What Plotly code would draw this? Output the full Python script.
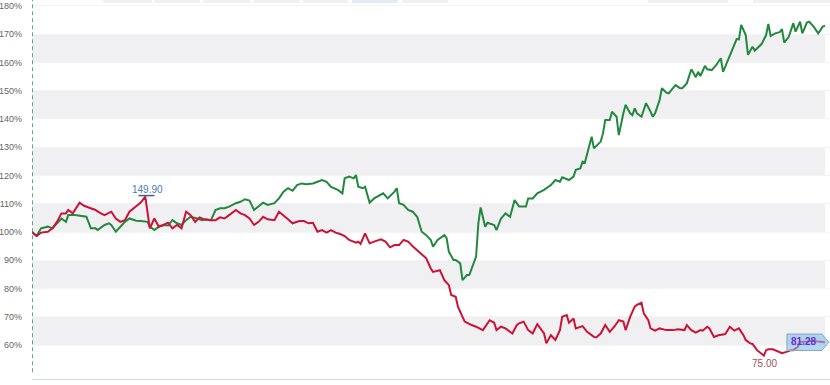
import plotly.graph_objects as go

# ---------------- data (percent of starting value) ----------------
green_days = [0,2,4,7,9,11,13,15,16,19,22,24,26,28,29,32,34,35,37,39,41,43,46,48,51,52,54,56,58,60,
              62,64,66,68,70,73,75,77,79,81,83,85,87,90,92,94,96,98,100,102,104,107,109,111,113,115,117,119,121,124,
              126,128,130,132,135,137,138,140,142,143,144,146,147,149,151,154,155,157,160,161,162,164,166,168,170,172,174,176,177,179,
              182,183,184,186,187,189,190,192,193,196,197,198,200,201,204,205,207,209,211,213,215,218,219,221,223,226,227,229,231,233,
              234,237,239,240,242,243,244,246,247,248,251,252,253,255,256,258,259,261,262,264,265,266,267,269,271,273,274,275,277,278,
              280,281,283,284,286,287,289,290,291,293,294,295,297,298,300,302,304,305,307,309,311,312,313,315,316,318,319,321,322,324,
              325,326,328,330,331,332,334,336,337,339,340,342,343,345,347,349,350]
green_pct = [100.0,98.6,101.3,101.9,101.3,103.1,104.8,103.6,106.0,106.0,105.7,105.4,101.3,101.3,100.7,102.5,103.1,102.5,100.1,101.9,
             103.6,104.8,104.0,103.9,103.6,101.9,100.7,101.9,102.5,102.3,104.2,103.1,102.5,104.2,105.4,104.8,104.2,104.4,104.2,107.8,
             108.4,108.4,109.0,110.2,110.7,111.6,111.1,107.8,109.0,110.4,109.6,110.2,111.9,114.3,115.5,114.6,116.6,117.2,116.9,117.2,
             117.8,118.4,117.8,116.0,114.9,113.7,119.0,119.6,119.0,120.2,116.0,115.5,116.0,110.4,111.9,113.1,113.7,111.9,114.3,115.5,
             110.2,109.6,107.8,107.2,105.4,100.1,98.9,97.2,94.8,97.2,98.9,97.8,93.0,90.1,90.1,88.9,83.0,84.8,84.8,91.3,
             103.1,108.7,101.9,103.3,102.5,100.7,104.8,106.6,105.4,111.3,109.0,109.0,111.9,111.9,113.7,114.9,115.5,116.6,118.4,117.8,
             119.4,118.4,119.6,122.0,122.5,124.9,124.5,131.4,133.7,129.6,132.0,134.9,139.6,139.6,142.6,140.8,134.3,142.0,145.0,142.0,
             141.4,143.8,142.0,140.8,145.6,142.6,140.8,142.0,146.7,150.9,149.3,149.1,151.2,152.0,150.9,150.9,152.6,155.0,157.6,154.8,
             156.7,155.2,158.8,157.6,157.3,159.1,161.5,156.7,160.9,164.4,168.3,168.2,173.3,169.7,162.7,165.6,164.2,165.8,166.5,169.7,
             173.6,169.4,170.3,170.7,171.8,167.0,169.1,173.9,170.9,174.4,170.3,174.1,174.4,172.7,170.3,172.7,173.0]

red_days = [0,2,4,7,9,11,13,15,16,18,21,23,25,28,30,32,35,37,39,41,43,46,48,50,52,54,56,58,60,62,
            64,66,68,70,72,74,76,79,81,83,85,87,90,92,94,96,98,100,102,104,107,109,111,113,115,118,120,122,124,126,
            128,130,132,134,136,138,140,143,144,145,147,149,151,154,156,158,160,162,164,166,168,170,172,174,176,177,180,182,184,185,
            187,188,190,191,194,196,199,202,204,205,207,209,212,214,215,217,219,221,223,226,227,229,231,233,234,236,237,239,240,242,
            243,245,248,249,251,253,255,257,259,261,262,264,266,267,269,270,272,273,275,277,280,283,285,288,289,291,293,295,296,298,
            299,301,303,306,308,310,312,314,315,317,318,320,321,323,324,325,327,329,331,333,335,336,338,339,342,344,347,350]
red_pct = [100.0,98.6,99.8,100.1,101.3,103.6,106.6,106.6,107.8,106.6,110.4,109.3,108.7,107.8,106.8,106.0,107.2,104.8,103.6,104.2,
           107.2,109.0,110.4,112.5,101.3,104.8,101.9,102.5,103.3,101.3,102.5,101.3,107.2,106.0,103.6,105.2,104.5,104.2,104.2,105.2,
           104.8,106.0,107.8,106.6,106.0,104.8,102.5,103.6,105.4,104.5,104.2,107.2,106.0,104.5,103.1,103.9,103.9,103.1,103.3,100.1,
           100.7,99.8,100.7,99.8,99.3,98.6,97.2,96.2,96.6,95.8,99.5,96.0,96.6,97.4,96.6,94.6,95.4,95.4,97.2,96.6,
           95.0,93.6,91.9,90.7,87.1,85.9,86.5,83.0,81.2,77.7,77.1,73.6,70.0,68.3,67.1,66.5,65.3,68.8,67.9,65.3,
           66.5,65.9,64.1,67.1,67.7,68.3,65.3,64.1,67.4,64.1,60.6,63.5,61.8,65.3,70.0,70.6,67.9,69.4,65.9,66.5,
           66.7,64.7,62.9,62.7,64.1,67.1,64.7,66.5,68.8,68.3,65.3,70.0,73.6,74.2,75.0,71.2,68.8,65.9,65.1,65.9,
           65.3,65.3,65.6,65.3,67.1,65.3,64.4,65.3,65.1,66.5,65.9,62.9,63.5,63.9,66.5,65.1,65.9,63.5,61.8,60.6,
           60.4,58.2,57.6,56.3,58.2,58.5,58.5,57.9,57.1,57.6,58.2,58.2,59.4,61.2,61.2,61.5,61.2,61.0]

red_price_high = "149.90"
red_price_low = "75.00"
red_price_last = "81.28"

y_ticks = [60, 70, 80, 90, 100, 110, 120, 130, 140, 150, 160, 170, 180]
band_starts = [60, 80, 100, 120, 140, 160]

GREEN = "#22883e"
RED = "#cc1236"
FONT = "Arial, Liberation Sans, sans-serif"

fig = go.Figure()
fig.add_trace(go.Scatter(x=green_days, y=green_pct, mode="lines",
                         line=dict(color=GREEN, width=2), hoverinfo="skip"))
fig.add_trace(go.Scatter(x=red_days, y=red_pct, mode="lines",
                         line=dict(color=RED, width=2), hoverinfo="skip"))

shapes = []
last_day = red_days[-1]
for b in band_starts:
    shapes.append(dict(type="rect", xref="x", yref="y", x0=0, x1=last_day, y0=b, y1=b + 10,
                       fillcolor="#f0f0f2", line=dict(width=0), layer="below"))

# dashed start marker line
shapes.append(dict(type="line", xref="x", yref="paper", x0=0, x1=0, y0=0.018, y1=1,
                   line=dict(color="#2f8a6d", width=1.5, dash="4px,3px")))

# faint range-selector remnants at the very top
for (a, b, c) in [(103, 152, "#f1f1f1"), (154, 200, "#f1f1f1"), (203, 250, "#f1f1f1"),
                  (253, 300, "#f1f1f1"), (303, 348, "#f1f1f1"), (352, 398, "#e4ebf6"),
                  (402, 448, "#f1f1f1"), (648, 728, "#f1f1f1"), (753, 830, "#f1f1f1")]:
    shapes.append(dict(type="rect", xref="paper", yref="paper",
                       x0=(a - 32) / 798, x1=(b - 32) / 798, y0=1 - 3 / 379, y1=1,
                       fillcolor=c, line=dict(width=0)))

# max / min markers
i_max = red_pct.index(max(red_pct))
i_min = red_pct.index(min(red_pct))
d_max, v_max = red_days[i_max], red_pct[i_max]
d_min, v_min = red_days[i_min], red_pct[i_min]
shapes.append(dict(type="line", xref="x", yref="y", x0=d_max - 3, x1=d_max + 4,
                   y0=v_max + 0.4, y1=v_max + 0.4, line=dict(color="#3d5f8a", width=1.5)))

# last-price callout
v_last = red_pct[-1]
h = 2.9
path = (f"M {last_day-16.8},{v_last-h} L {last_day-1.4},{v_last-h} L {last_day+1.7},{v_last} "
        f"L {last_day-1.4},{v_last+h} L {last_day-16.8},{v_last+h} Z")
shapes.append(dict(type="path", xref="x", yref="y", path=path,
                   fillcolor="rgba(130,190,235,0.6)", line=dict(color="#8aa6bf", width=1), layer="above"))

annotations = [
    dict(x=d_max + 0.8, y=v_max, xref="x", yref="y", text=red_price_high, showarrow=False,
         yanchor="bottom", yshift=0, font=dict(family=FONT, size=10, color="#4a7db0")),
    dict(x=d_min + 0.5, y=v_min, xref="x", yref="y", text=red_price_low, showarrow=False,
         yanchor="top", yshift=0, font=dict(family=FONT, size=10, color="#a0505e")),
    dict(x=last_day - 9.5, y=v_last + 0.3, xref="x", yref="y", text="<b>" + red_price_last + "</b>",
         showarrow=False, font=dict(family=FONT, size=10, color="#6a2fd0")),
]

fig.update_layout(
    width=830, height=385,
    margin=dict(l=32, r=0, t=0, b=6, autoexpand=False),
    plot_bgcolor="white", paper_bgcolor="white",
    showlegend=False,
    shapes=shapes, annotations=annotations,
    xaxis=dict(range=[0, 352.2], showticklabels=False, showgrid=False, zeroline=False,
               showline=True, linecolor="#d8d8d8", linewidth=1, ticks="", fixedrange=True,
               automargin=False),
    yaxis=dict(range=[48.0, 182.1], tickvals=y_ticks, ticktext=[f"{v}%" for v in y_ticks],
               tickfont=dict(family=FONT, size=9, color="#666666"),
               showgrid=True, gridcolor="#f4f4f4", zeroline=False, ticks="",
               ticklabelstandoff=9, ticklabeloverflow="allow",
               showline=False, fixedrange=True, automargin=False),
)

fig.write_html("out.html", config={"displayModeBar": False},
               post_script="document.body.style.margin='0';document.body.style.padding='0';")
